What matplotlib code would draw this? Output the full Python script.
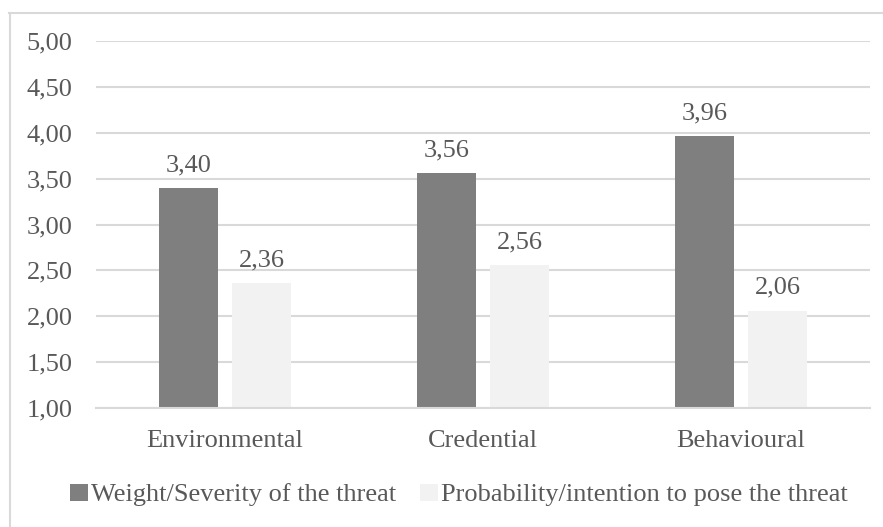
import matplotlib

matplotlib.use("Agg")
import matplotlib.pyplot as plt
import numpy as np
from matplotlib.lines import Line2D
from matplotlib.ticker import FuncFormatter

plt.rcParams["font.family"] = ["Liberation Serif", "DejaVu Serif"]

categories = ["Environmental", "Credential", "Behavioural"]
severity = [3.40, 3.56, 3.96]
probability = [2.36, 2.56, 2.06]
series_names = [
    "Weight/Severity of the threat",
    "Probability/intention to pose the threat",
]
y_ticks = [1.0, 1.5, 2.0, 2.5, 3.0, 3.5, 4.0, 4.5, 5.0]

TEXT = "#595959"
GRID = "#d9d9d9"
DARK = "#7f7f7f"
LIGHT = "#f2f2f2"
FS = 19

W, H = 883, 527
fig = plt.figure(figsize=(W / 100, H / 100), dpi=100)

# chart area border (cropped at right/bottom)
fig.add_artist(Line2D([9 / W, 1.01], [1 - 12.5 / H] * 2, transform=fig.transFigure, color=GRID, lw=1.5))
fig.add_artist(Line2D([9.5 / W] * 2, [-0.01, 1 - 12.5 / H], transform=fig.transFigure, color=GRID, lw=1.5))

ax = fig.add_axes([96 / W, (H - 408) / H, 774 / W, 367 / H])

x = np.arange(len(categories))
width = 0.225
offset = 0.1415
bars1 = ax.bar(x - offset, severity, width, bottom=0, color=DARK, label=series_names[0], zorder=2)
bars2 = ax.bar(x + offset, probability, width, bottom=0, color=LIGHT, label=series_names[1], zorder=2)

for bars, values in ((bars1, severity), (bars2, probability)):
    for bar, value in zip(bars, values):
        ax.annotate(
            f"{value:.2f}".replace(".", ","),
            (bar.get_x() + bar.get_width() / 2, value),
            xytext=(0, 8.5),
            textcoords="offset points",
            ha="center",
            va="bottom",
            fontsize=FS,
            color=TEXT,
        )

ax.set_xlim(-0.5, len(categories) - 0.5)
ax.set_ylim(1, 5)
ax.set_yticks(y_ticks)
ax.yaxis.set_major_formatter(FuncFormatter(lambda v, _: f"{v:.2f}".replace(".", ",")))
ax.set_xticks(x)
ax.set_xticklabels(categories)
ax.tick_params(axis="y", length=0, pad=17, labelsize=FS, labelcolor=TEXT)
ax.tick_params(axis="x", length=0, pad=16, labelsize=FS, labelcolor=TEXT)
ax.grid(axis="y", color=GRID, lw=1.5, zorder=0)
for side in ("top", "right", "left"):
    ax.spines[side].set_visible(False)
ax.spines["bottom"].set_color(GRID)
ax.spines["bottom"].set_linewidth(1.5)

fig.legend(
    loc="center",
    bbox_to_anchor=(458.5 / W, 1 - 495 / H),
    ncol=2,
    frameon=False,
    fontsize=FS,
    labelcolor=TEXT,
    handlelength=0.7,
    handleheight=0.6,
    handletextpad=0.1,
    columnspacing=0.9,
)

fig.savefig("out.png", dpi=100)
